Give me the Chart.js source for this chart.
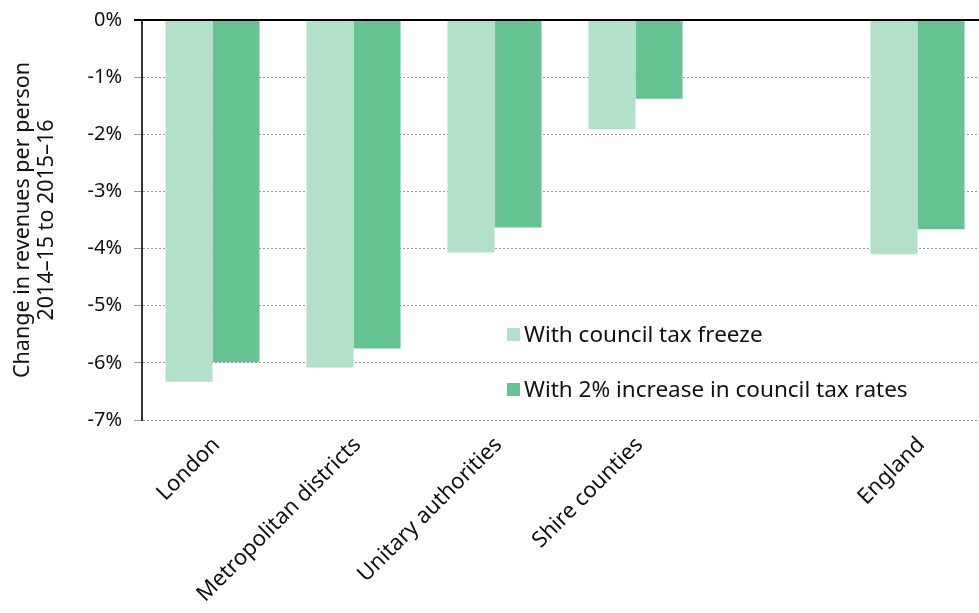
<!DOCTYPE html>
<html>
<head>
<meta charset="utf-8">
<script src="https://cdn.jsdelivr.net/npm/chart.js@4"></script>
<style>
  html, body { margin: 0; padding: 0; background: #fff; overflow: hidden; }
  #wrap { position: relative; width: 990px; height: 613px; }
  .leg { position: absolute; font-family: "Noto Sans", sans-serif; font-size: 22.5px; color: #111; white-space: nowrap; line-height: 26px; }
  .leg span.sw { display: inline-block; width: 13px; height: 13px; margin-right: 4px; vertical-align: 1px; }
</style>
</head>
<body>
<div id="wrap">
  <canvas id="c" width="990" height="613"></canvas>
  <div id="legend"></div>
</div>
<script>
const categories = ["London", "Metropolitan districts", "Unitary authorities", "Shire counties", "", "England"];
const seriesNames = ["With council tax freeze", "With 2% increase in council tax rates"];
const freezeValues = [-6.33, -6.08, -4.07, -1.91, null, -4.10];
const increaseValues = [-5.99, -5.75, -3.63, -1.38, null, -3.66];
const yTicks = [0, -1, -2, -3, -4, -5, -6, -7];
const yTitle = ["Change in revenues per person", "2014\u201315 to 2015\u201316"];
const colors = ["#b3e0c8", "#66c392"];

const font = "'Noto Sans', sans-serif";

const zeroLine = {
  id: 'zeroLine',
  afterDatasetsDraw(chart) {
    const y = chart.scales.y.getPixelForValue(0);
    const ctx = chart.ctx;
    ctx.save();
    ctx.strokeStyle = '#000';
    ctx.lineWidth = 2;
    ctx.beginPath();
    ctx.moveTo(chart.chartArea.left - 8, y);
    ctx.lineTo(chart.chartArea.right, y);
    ctx.stroke();
    ctx.restore();
  }
};

const chart = new Chart(document.getElementById('c'), {
  type: 'bar',
  data: {
    labels: categories,
    datasets: [
      { label: seriesNames[0], data: freezeValues, backgroundColor: colors[0] },
      { label: seriesNames[1], data: increaseValues, backgroundColor: colors[1] }
    ]
  },
  options: {
    responsive: false,
    animation: false,
    layout: { padding: { top: 0, right: 2, left: 0, bottom: 0 } },
    plugins: { legend: { display: false }, tooltip: { enabled: false } },
    datasets: { bar: { categoryPercentage: 0.667, barPercentage: 1.0 } },
    scales: {
      x: {
        afterFit(scale) { scale.height = 193; },
        grid: { display: false },
        border: { display: false },
        ticks: {
          color: '#111',
          font: { family: font, size: 22 },
          maxRotation: 45, minRotation: 45,
          autoSkip: false,
          padding: 4,
          labelOffset: 4
        }
      },
      y: {
        min: -7, max: 0,
        afterFit(scale) { scale.width = 142; scale.paddingTop = 20; },
        afterBuildTicks(scale) { scale.ticks = yTicks.map(v => ({ value: v })); },
        grid: { color: '#999', lineWidth: 1, tickLength: 8, drawOnChartArea: true },
        border: { display: true, color: '#333', width: 2, dash: [2, 2] },
        ticks: {
          color: '#111',
          font: { family: font, size: 20 },
          padding: 12,
          callback: v => v + '%'
        },
        title: {
          display: true,
          text: yTitle,
          color: '#111',
          font: { family: font, size: 21.5, lineHeight: 1.1 },
          padding: { top: 11, bottom: 0 }
        }
      }
    }
  },
  plugins: [zeroLine]
});

// HTML legend using dataset colours
const lg = document.getElementById('legend');
const legPos = [[507, 321], [507, 376]];
seriesNames.forEach((name, i) => {
  const d = document.createElement('div');
  d.className = 'leg';
  d.style.left = legPos[i][0] + 'px';
  d.style.top = legPos[i][1] + 'px';
  d.innerHTML = '<span class="sw" style="background:' + colors[i] + '"></span>' + name;
  lg.appendChild(d);
});
</script>
</body>
</html>
